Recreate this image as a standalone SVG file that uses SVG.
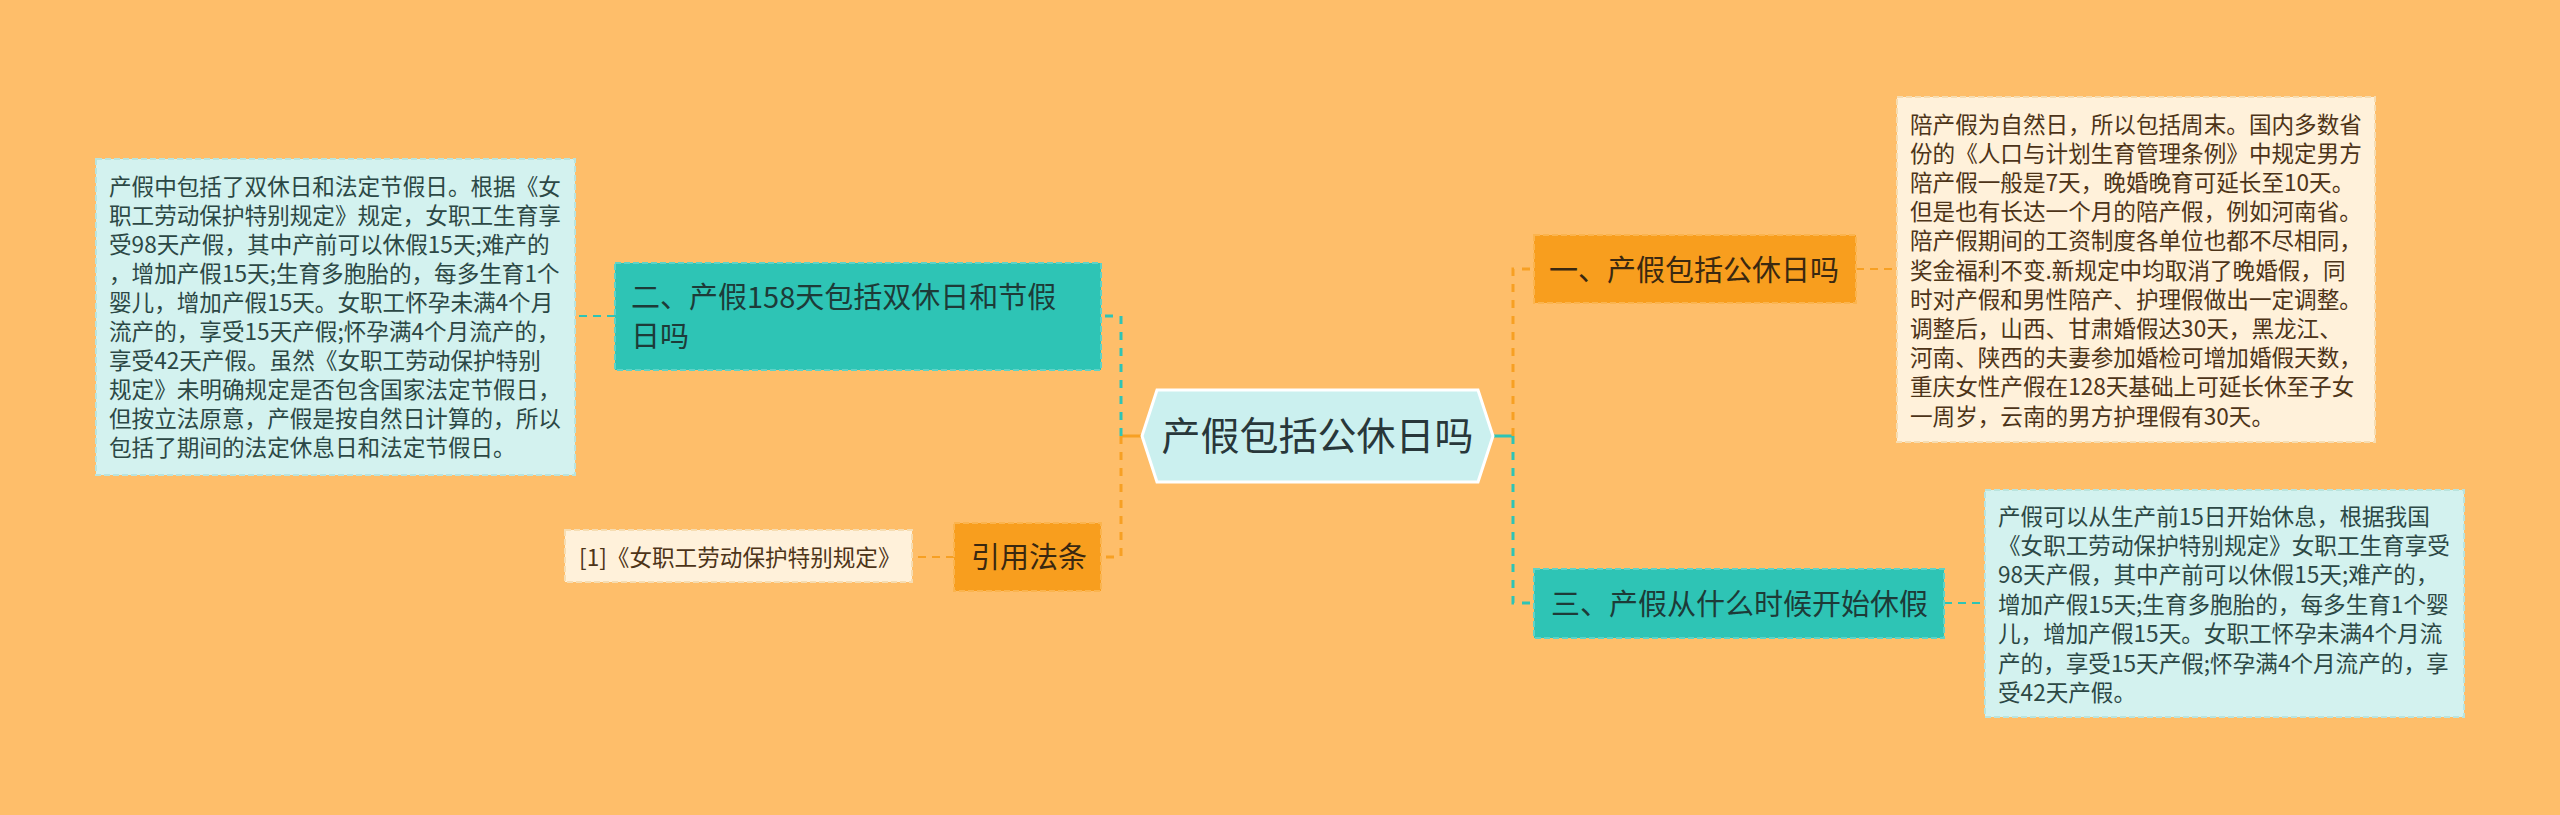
<svg xmlns="http://www.w3.org/2000/svg" width="2560" height="815" viewBox="0 0 2560 815">
<style>
text{font-family:"Noto Sans CJK SC","Noto Sans",sans-serif;}
.sm{font-size:22.6px;}
.lg{font-size:29px;}
.teal{fill:#2EC4B5;stroke:#5ED3C7;stroke-width:2;stroke-dasharray:6 3;}
.orng{fill:#F89E1E;stroke:#FBB44E;stroke-width:2;stroke-dasharray:6 3;}
.cyan{fill:#D3F2EF;stroke:#B9E4DE;stroke-width:2;stroke-dasharray:6 3;}
.crem{fill:#FFF1DA;stroke:#F6DDB2;stroke-width:2;stroke-dasharray:6 3;}
.tt{fill:#1D3B38;}
.ot{fill:#3A2810;}
.ct{fill:#2C4845;}
.rt{fill:#4D3418;}
.ct-o{fill:none;stroke:#F7A023;stroke-width:3;}
.ct-t{fill:none;stroke:#2EC4B5;stroke-width:3;}
.d{stroke-dasharray:8 8;}
.d2{stroke-width:2;stroke-dasharray:8 6;}
</style>
<rect x="0" y="0" width="2560" height="815" fill="#FEBE6A"/>
<g id="connectors">
  <path class="ct-o" d="M1142,436 H1121"/>
  <path class="ct-t d" d="M1121,436 V316 H1101"/>
  <path class="ct-o d" d="M1121,436 V557 H1101"/>
  <path class="ct-t" d="M1493,436 H1513"/>
  <path class="ct-o d" d="M1513,436 V269 H1534"/>
  <path class="ct-t d" d="M1513,436 V603 H1534"/>
  <path class="ct-t d2" d="M615,316 H575"/>
  <path class="ct-o d2" d="M954,557 H912"/>
  <path class="ct-o d2" d="M1856,269 H1897"/>
  <path class="ct-t d2" d="M1944,603 H1985"/>
</g>
<g id="center">
  <polygon points="1142,436 1157,390 1478,390 1493,436 1478,482 1157,482" fill="#CBF0EF" stroke="#FFFFFF" stroke-width="3"/>
  <text x="1317.5" y="450" font-size="39" text-anchor="middle" fill="#28373A">产假包括公休日吗</text>
</g>
<g id="node-2">
  <rect class="teal" x="615" y="263" width="486" height="107"/>
  <text class="lg tt" x="631" y="308">二、产假158天包括双休日和节假</text>
  <text class="lg tt" x="631" y="346.5">日吗</text>
</g>
<g id="node-2-detail">
  <rect class="cyan" x="96" y="159" width="479" height="316"/>
  <text class="sm ct">
    <tspan x="109" y="195">产假中包括了双休日和法定节假日。根据《女</tspan>
    <tspan x="109" y="224">职工劳动保护特别规定》规定，女职工生育享</tspan>
    <tspan x="109" y="253">受98天产假，其中产前可以休假15天;难产的</tspan>
    <tspan x="109" y="282">，增加产假15天;生育多胞胎的，每多生育1个</tspan>
    <tspan x="109" y="311">婴儿，增加产假15天。女职工怀孕未满4个月</tspan>
    <tspan x="109" y="340">流产的，享受15天产假;怀孕满4个月流产的，</tspan>
    <tspan x="109" y="369">享受42天产假。虽然《女职工劳动保护特别</tspan>
    <tspan x="109" y="398">规定》未明确规定是否包含国家法定节假日，</tspan>
    <tspan x="109" y="427">但按立法原意，产假是按自然日计算的，所以</tspan>
    <tspan x="109" y="456">包括了期间的法定休息日和法定节假日。</tspan>
  </text>
</g>
<g id="node-ref">
  <rect class="orng" x="954" y="523" width="147" height="68"/>
  <text class="lg ot" x="971" y="568">引用法条</text>
</g>
<g id="node-ref-detail">
  <rect class="crem" x="565" y="530" width="347" height="52"/>
  <text class="sm rt" x="579" y="566">[1]《女职工劳动保护特别规定》</text>
</g>
<g id="node-1">
  <rect class="orng" x="1534" y="235" width="322" height="68"/>
  <text class="lg ot" x="1549" y="281">一、产假包括公休日吗</text>
</g>
<g id="node-1-detail">
  <rect class="crem" x="1897" y="97" width="478" height="345"/>
  <text class="sm rt">
    <tspan x="1910" y="132.6">陪产假为自然日，所以包括周末。国内多数省</tspan>
    <tspan x="1910" y="161.8">份的《人口与计划生育管理条例》中规定男方</tspan>
    <tspan x="1910" y="191">陪产假一般是7天，晚婚晚育可延长至10天。</tspan>
    <tspan x="1910" y="220.2">但是也有长达一个月的陪产假，例如河南省。</tspan>
    <tspan x="1910" y="249.4">陪产假期间的工资制度各单位也都不尽相同，</tspan>
    <tspan x="1910" y="278.6">奖金福利不变.新规定中均取消了晚婚假，同</tspan>
    <tspan x="1910" y="307.8">时对产假和男性陪产、护理假做出一定调整。</tspan>
    <tspan x="1910" y="337">调整后，山西、甘肃婚假达30天，黑龙江、</tspan>
    <tspan x="1910" y="366.2">河南、陕西的夫妻参加婚检可增加婚假天数，</tspan>
    <tspan x="1910" y="395.4">重庆女性产假在128天基础上可延长休至子女</tspan>
    <tspan x="1910" y="424.6">一周岁，云南的男方护理假有30天。</tspan>
  </text>
</g>
<g id="node-3">
  <rect class="teal" x="1534" y="569" width="410" height="69"/>
  <text class="lg tt" x="1551" y="614.5">三、产假从什么时候开始休假</text>
</g>
<g id="node-3-detail">
  <rect class="cyan" x="1985" y="490" width="479" height="227"/>
  <text class="sm ct">
    <tspan x="1998" y="524.6">产假可以从生产前15日开始休息，根据我国</tspan>
    <tspan x="1998" y="554">《女职工劳动保护特别规定》女职工生育享受</tspan>
    <tspan x="1998" y="583.4">98天产假，其中产前可以休假15天;难产的，</tspan>
    <tspan x="1998" y="612.8">增加产假15天;生育多胞胎的，每多生育1个婴</tspan>
    <tspan x="1998" y="642.2">儿，增加产假15天。女职工怀孕未满4个月流</tspan>
    <tspan x="1998" y="671.6">产的，享受15天产假;怀孕满4个月流产的，享</tspan>
    <tspan x="1998" y="701">受42天产假。</tspan>
  </text>
</g>
</svg>
